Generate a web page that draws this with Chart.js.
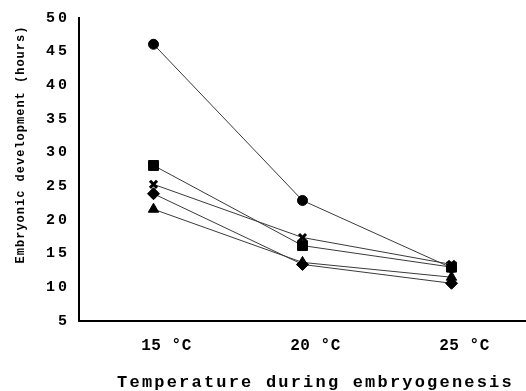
<!DOCTYPE html>
<html>
<head>
<meta charset="utf-8">
<script src="https://cdn.jsdelivr.net/npm/chart.js"></script>
<style>
  body { margin: 0; background: #fff; }
</style>
</head>
<body>
<div style="height:391px;width:526px;">
  <canvas id="myChart"></canvas>
</div>

<script>
const labels = ['15 \u00B0C', '20 \u00B0C', '25 \u00B0C'];
const yTicks = [5, 10, 15, 20, 25, 30, 35, 40, 45, 50];

// one series per marker shape
const circleVals = [46.1, 22.9, 12.9];
const squareVals = [28.1, 16.2, 13.0];
const crossVals = [25.3, 17.4, 13.4];
const diamondVals = [23.9, 13.4, 10.6];
const triangleVals = [21.6, 13.7, 11.5];

const mono = 'Liberation Mono, Courier New, monospace';

function series(name, vals, style, radius, bw) {
  return {
    label: name,
    data: vals,
    borderColor: '#3a3a3a',
    borderWidth: 1,
    pointStyle: style,
    pointRadius: radius,
    pointBackgroundColor: '#000',
    pointBorderColor: '#000',
    pointBorderWidth: bw,
    tension: 0
  };
}

// the old typewriter font is spaced wider than Liberation Mono,
// and the axis titles sit a bit off centre in the original
function spaceOut(scale, titleSp, labelSp, dx, dy) {
  if (scale._spaced) return;
  scale._spaced = true;
  const dt = scale.drawTitle, dl = scale.drawLabels;
  scale.drawTitle = function () {
    const ctx = this.ctx;
    ctx.save();
    ctx.translate(dx, dy);
    ctx.letterSpacing = titleSp;
    dt.apply(this, arguments);
    ctx.restore();
    ctx.letterSpacing = '0px';
  };
  scale.drawLabels = function () {
    this.ctx.letterSpacing = labelSp;
    dl.apply(this, arguments);
    this.ctx.letterSpacing = '0px';
  };
}

const data = {
  labels: labels,
  datasets: [
    series('circle', circleVals, 'circle', 5, 1),
    series('cross', crossVals, 'crossRot', 5, 3),
    series('square', squareVals, 'rect', 7, 1),
    series('diamond', diamondVals, 'rectRot', 6, 1),
    series('triangle', triangleVals, 'triangle', 6, 1)
  ]
};

const config = {
  type: 'line',
  data: data,
  options: {
    responsive: true,
    maintainAspectRatio: false,
    animation: false,
    layout: { autoPadding: false, padding: { top: 11, right: 0, bottom: 0, left: 0 } },
    plugins: { legend: { display: false }, tooltip: { enabled: false } },
    scales: {
      x: {
        offset: true,
        grid: { display: false, drawTicks: false },
        border: { display: true, color: '#000', width: 2 },
        ticks: {
          color: '#000',
          padding: 15,
          labelOffset: 13,
          font: { family: mono, size: 16, weight: 'bold' }
        },
        title: {
          display: true,
          text: 'Temperature during embryogenesis',
          color: '#000',
          padding: { top: 4, bottom: 0 },
          font: { family: mono, size: 17, weight: 'bold' }
        },
        afterFit: function (scale) {
          scale.height = 70;
          spaceOut(scale, '2.2px', '0.5px', 13, 2);
        }
      },
      y: {
        min: 5,
        max: 50,
        afterBuildTicks: function (scale) {
          scale.ticks = yTicks.map(v => ({ value: v }));
        },
        grid: { display: false, drawTicks: false },
        border: { display: true, color: '#000', width: 2 },
        ticks: {
          color: '#000',
          padding: 9,
          font: { family: mono, size: 15, weight: 'bold' }
        },
        title: {
          display: true,
          text: 'Embryonic development (hours)',
          color: '#000',
          padding: { top: 14, bottom: 0 },
          font: { family: mono, size: 12, weight: 'bold' }
        },
        afterFit: function (scale) {
          scale.width = 79;
          spaceOut(scale, '1px', '3px', 0, -25);
        }
      }
    }
  }
};

var myChart = new Chart(document.getElementById('myChart'), config);
</script>
</body>
</html>
